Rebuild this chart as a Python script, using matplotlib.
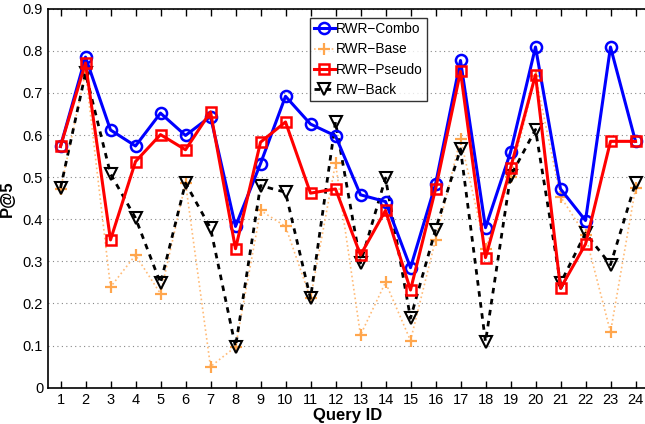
import matplotlib
matplotlib.use("Agg")
import matplotlib.pyplot as plt
import numpy as np

plt.rcParams['font.family'] = ['Liberation Sans', 'DejaVu Sans']

query_ids = list(range(1, 25))
rwr_combo = [0.573, 0.785, 0.612, 0.574, 0.652, 0.599, 0.644, 0.383, 0.532, 0.692, 0.626, 0.598,
             0.458, 0.442, 0.285, 0.483, 0.777, 0.380, 0.559, 0.809, 0.472, 0.397, 0.809, 0.585]
rwr_base = [0.471, 0.750, 0.239, 0.315, 0.223, 0.486, 0.050, 0.097, 0.421, 0.383, 0.212, 0.533,
            0.125, 0.250, 0.112, 0.351, 0.591, 0.330, 0.500, 0.740, 0.454, 0.362, 0.132, 0.474]
rwr_pseudo = [0.573, 0.771, 0.351, 0.537, 0.601, 0.565, 0.655, 0.330, 0.583, 0.631, 0.462, 0.472,
              0.315, 0.421, 0.232, 0.471, 0.751, 0.309, 0.521, 0.743, 0.236, 0.341, 0.585, 0.585]
rw_back = [0.474, 0.747, 0.508, 0.403, 0.248, 0.486, 0.379, 0.097, 0.480, 0.464, 0.212, 0.631,
           0.296, 0.498, 0.165, 0.375, 0.567, 0.109, 0.502, 0.613, 0.248, 0.367, 0.292, 0.486]
yticks = [0, 0.1, 0.2, 0.3, 0.4, 0.5, 0.6, 0.7, 0.8, 0.9]
ytick_labels = ['0', '0.1', '0.2', '0.3', '0.4', '0.5', '0.6', '0.7', '0.8', '0.9']

fig = plt.figure(figsize=(6.45, 4.24), dpi=100)
ax = fig.add_axes([48/645, 36.3/424, 600/645, 379/424])

ax.plot(query_ids, rwr_combo, color='#0000ff', lw=2.2, marker='o', ms=8,
        mfc='none', mec='#0000ff', mew=1.8, label='RWR\u2212Combo', zorder=4)
ax.plot(query_ids, rwr_base, color='#ffbb77', lw=1.2, ls=':', marker='+', ms=8,
        mec='#ffa64d', mew=1.6, label='RWR\u2212Base', zorder=2)
ax.plot(query_ids, rwr_pseudo, color='#ff0000', lw=2.2, marker='s', ms=7,
        mfc='none', mec='#ff0000', mew=1.8, label='RWR\u2212Pseudo', zorder=5)
ax.plot(query_ids, rw_back, color='black', lw=2.0, ls=(0, (2, 2)), marker='v', ms=9,
        mfc='none', mec='black', mew=1.5, label='RW\u2212Back', zorder=3)

ax.set_xlim(0.5, 24.5)
ax.set_ylim(0, 0.9)
ax.set_xticks(query_ids)
ax.set_xticklabels([str(q) for q in query_ids])
ax.set_yticks(yticks)
ax.set_yticklabels(ytick_labels)
ax.yaxis.grid(True, ls=(0, (1, 3)), color='#888888', lw=0.8)
ax.set_axisbelow(True)
ax.tick_params(axis='both', direction='in', labelsize=10.5, top=True, right=True, length=5, width=1)
ax.tick_params(axis='y', length=0)
for s in ax.spines.values():
    s.set_linewidth(1.2)

ax.set_xlabel('Query ID', fontsize=12, fontweight='bold', labelpad=1)
ax.set_ylabel('P@5', fontsize=12, fontweight='bold', labelpad=6)

leg = ax.legend(loc='upper left', bbox_to_anchor=(262/600, 0.975), fontsize=9.8,
                frameon=True, fancybox=False, edgecolor='black', handlelength=1.5,
                handletextpad=0.1, borderpad=0.3, labelspacing=0.45, borderaxespad=0)
leg.get_frame().set_linewidth(1.0)

fig.savefig('out.png', dpi=100)
